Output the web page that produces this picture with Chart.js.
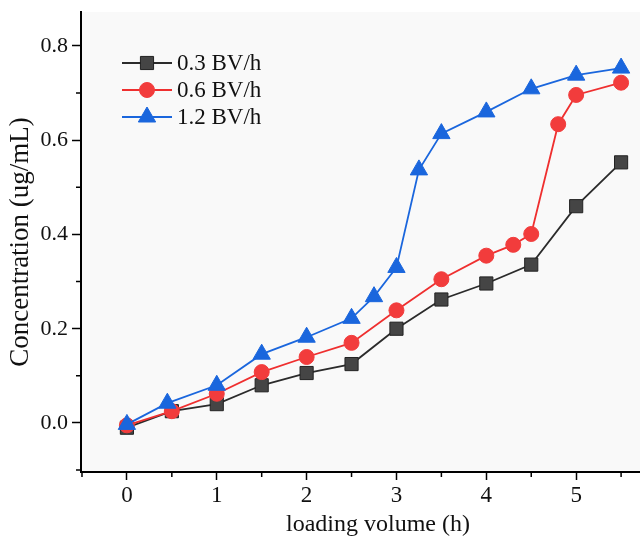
<!DOCTYPE html>
<html lang="en">
<head>
    <meta charset="UTF-8">
    <title>Concentration vs loading volume</title>
    <style>
        body { margin: 0; background: #fff; }
        #wrap { width: 640px; height: 545px; overflow: hidden; }
        #inner { width: 686px; height: 545px; }
    </style>
</head>
<body>
    <div id="wrap"><div id="inner"><canvas id="chart"></canvas></div></div>

    <script src="https://cdn.jsdelivr.net/npm/chart.js"></script>
    <script>
        // values
        const seriesNames = ['0.3 BV/h', '0.6 BV/h', '1.2 BV/h'];
        const xBlack = [0, 0.5, 1, 1.5, 2, 2.5, 3, 3.5, 4, 4.5, 5, 5.5];
        const yBlack = [-0.01, 0.025, 0.04, 0.08, 0.106, 0.125, 0.2, 0.262, 0.296, 0.336, 0.46, 0.553];
        const xRed = [0, 0.5, 1, 1.5, 2, 2.5, 3, 3.5, 4, 4.3, 4.5, 4.8, 5, 5.5];
        const yRed = [-0.005, 0.025, 0.062, 0.108, 0.14, 0.17, 0.239, 0.305, 0.355, 0.378, 0.401, 0.634, 0.696, 0.722];
        const xBlue = [0, 0.45, 1, 1.5, 2, 2.5, 2.75, 3, 3.25, 3.5, 4, 4.5, 5, 5.5];
        const yBlue = [-0.003, 0.042, 0.08, 0.146, 0.182, 0.222, 0.268, 0.33, 0.537, 0.614, 0.66, 0.709, 0.738, 0.753];

        const xMajor = [0, 1, 2, 3, 4, 5];
        const xMinor = [-0.5, 0.5, 1.5, 2.5, 3.5, 4.5, 5.5];
        const yMajor = [0, 0.2, 0.4, 0.6, 0.8];
        const yMinor = [-0.1, 0.1, 0.3, 0.5, 0.7];

        const serif = "'Liberation Serif', 'Times New Roman', serif";

        function pts(xs, ys) {
            return xs.map((x, i) => ({ x: x, y: ys[i] }));
        }

        // no extra room for edge labels, axes sit where the layout says
        function noPad(s) {
            s.paddingLeft = 0; s.paddingRight = 0;
            s.paddingTop = 0; s.paddingBottom = 0;
        }

        // outward minor ticks (Chart.js only draws one tick length)
        const minorTicks = {
            id: 'minorTicks',
            afterDraw(chart) {
                const ctx = chart.ctx;
                const xs = chart.scales.x, ys = chart.scales.y;
                const area = chart.chartArea;
                ctx.save();
                ctx.strokeStyle = '#000';
                ctx.lineWidth = 1.5;
                ctx.beginPath();
                xMinor.forEach(v => {
                    const px = xs.getPixelForValue(v);
                    ctx.moveTo(px, area.bottom);
                    ctx.lineTo(px, area.bottom + 5);
                });
                yMinor.forEach(v => {
                    const py = ys.getPixelForValue(v);
                    ctx.moveTo(area.left, py);
                    ctx.lineTo(area.left - 5, py);
                });
                ctx.stroke();
                ctx.restore();
            }
        };

        // legend drawn inside the plot, top left
        const innerLegend = {
            id: 'innerLegend',
            afterDraw(chart) {
                const ctx = chart.ctx;
                const x0 = chart.chartArea.left + 41;
                const y0 = chart.chartArea.top + 51;
                ctx.save();
                chart.data.datasets.forEach((ds, i) => {
                    const y = y0 + i * 27;
                    ctx.strokeStyle = ds.borderColor;
                    ctx.lineWidth = 2;
                    ctx.beginPath();
                    ctx.moveTo(x0, y);
                    ctx.lineTo(x0 + 50, y);
                    ctx.stroke();
                    ctx.fillStyle = ds.pointBackgroundColor;
                    ctx.strokeStyle = ds.pointBorderColor;
                    ctx.lineWidth = 1;
                    Chart.helpers.drawPoint(ctx, {
                        pointStyle: ds.pointStyle,
                        radius: ds.pointRadius,
                        rotation: 0,
                        borderWidth: 1
                    }, x0 + 25, y);
                    ctx.fillStyle = '#111';
                    ctx.font = '23px ' + serif;
                    ctx.textBaseline = 'middle';
                    ctx.textAlign = 'left';
                    ctx.fillText(ds.label, x0 + 55, y + 1);
                });
                ctx.restore();
            }
        };

        const plotBg = {
            id: 'plotBg',
            beforeDraw(chart) {
                const a = chart.chartArea;
                chart.ctx.save();
                chart.ctx.fillStyle = '#f9f9f9';
                chart.ctx.fillRect(a.left, a.top, a.right - a.left, a.bottom - a.top);
                chart.ctx.restore();
            }
        };

        new Chart(document.getElementById('chart'), {
            type: 'line',
            data: {
                datasets: [
                    {
                        label: seriesNames[0],
                        data: pts(xBlack, yBlack),
                        borderColor: '#2b2b2b',
                        borderWidth: 1.8,
                        pointStyle: 'rect',
                        pointRadius: 9.3,
                        pointBackgroundColor: '#454545',
                        pointBorderColor: '#222',
                        pointBorderWidth: 1,
                        order: 2
                    },
                    {
                        label: seriesNames[1],
                        data: pts(xRed, yRed),
                        borderColor: '#ef2f2f',
                        borderWidth: 1.8,
                        pointStyle: 'circle',
                        pointRadius: 7.5,
                        pointBackgroundColor: '#f23c3c',
                        pointBorderColor: '#f23c3c',
                        pointBorderWidth: 1,
                        order: 1
                    },
                    {
                        label: seriesNames[2],
                        data: pts(xBlue, yBlue),
                        borderColor: '#1a66dd',
                        borderWidth: 1.8,
                        pointStyle: 'triangle',
                        pointRadius: 10,
                        pointBackgroundColor: '#1a66dd',
                        pointBorderColor: '#1a66dd',
                        pointBorderWidth: 1,
                        order: 0
                    }
                ]
            },
            options: {
                responsive: true,
                maintainAspectRatio: false,
                animation: false,
                layout: { padding: { top: 12, right: 0, left: 0, bottom: 0 } },
                plugins: {
                    legend: { display: false },
                    tooltip: { enabled: false }
                },
                elements: { line: { tension: 0 } },
                clip: false,
                scales: {
                    x: {
                        type: 'linear',
                        min: -0.511,
                        max: 6.1,
                        afterBuildTicks: s => { s.ticks = xMajor.map(v => ({ value: v })); },
                        afterFit: s => { s.height = 73; noPad(s); },
                        grid: { drawOnChartArea: false, tickLength: 8, tickColor: '#000', tickWidth: 1.5 },
                        border: { display: true, color: '#000', width: 2 },
                        ticks: {
                            padding: 2,
                            color: '#111',
                            font: { family: serif, size: 23 },
                            callback: v => String(v)
                        },
                        title: {
                            display: true,
                            text: 'loading volume (h)',
                            color: '#111',
                            font: { family: serif, size: 24 },
                            padding: { top: 6, bottom: 6 }
                        }
                    },
                    y: {
                        min: -0.104,
                        max: 0.872,
                        afterBuildTicks: s => { s.ticks = yMajor.map(v => ({ value: v })); },
                        afterFit: s => { s.width = 81; noPad(s); },
                        grid: { drawOnChartArea: false, tickLength: 9, tickColor: '#000', tickWidth: 1.5 },
                        border: { display: true, color: '#000', width: 2 },
                        ticks: {
                            padding: 4,
                            color: '#111',
                            font: { family: serif, size: 22 },
                            callback: v => v.toFixed(1)
                        },
                        title: {
                            display: true,
                            text: 'Concentration (ug/mL)',
                            color: '#111',
                            font: { family: serif, size: 27 },
                            padding: { top: 5, bottom: 5 }
                        }
                    }
                }
            },
            plugins: [plotBg, minorTicks, innerLegend]
        });
    </script>
</body>
</html>
